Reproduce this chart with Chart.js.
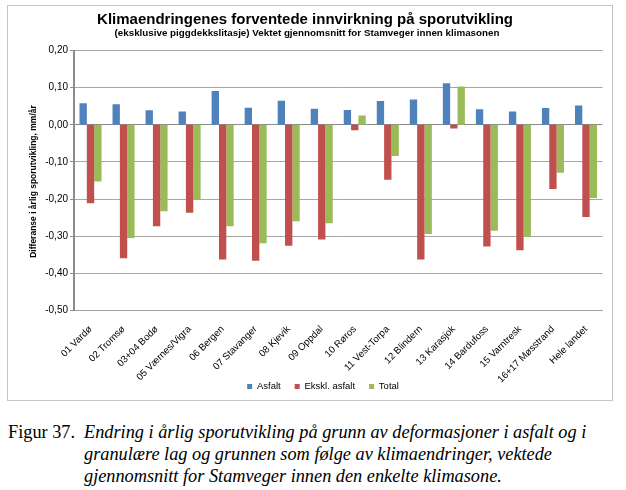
<!DOCTYPE html>
<html>
<head>
<meta charset="utf-8">
<script src="https://cdn.jsdelivr.net/npm/chart.js@4.4.1/dist/chart.umd.min.js"></script>
<style>
  html, body { margin: 0; padding: 0; background: #fff; }
  body { width: 626px; height: 490px; position: relative; overflow: hidden; }
  #box { position: absolute; left: 7px; top: 5px; width: 606px; height: 396px; box-sizing: border-box; border: 1.5px solid #c4c4c4; }
  #wrap { position: absolute; left: 0; top: 0; width: 603px; height: 393px; }
  #cap { position: absolute; left: 8px; top: 422px; font-family: "Liberation Serif", "Times New Roman", serif; font-size: 18.3px; line-height: 21.8px; color: #000; }
  #cap .lab { position: absolute; left: 0; top: 0; white-space: nowrap; }
  #cap .txt { position: absolute; left: 76px; top: 0; width: 540px; font-style: italic; white-space: nowrap; }
</style>
</head>
<body>
<div id="box"><div id="wrap"><canvas id="c"></canvas></div></div>
<div id="cap">
  <div class="lab">Figur 37.</div>
  <div class="txt">Endring i årlig sporutvikling på grunn av deformasjoner i asfalt og i<br>granulære lag og grunnen som følge av klimaendringer, vektede<br>gjennomsnitt for Stamveger innen den enkelte klimasone.</div>
</div>
<script>
const categories = ["01 Vardø","02 Tromsø","03+04 Bodø","05 Værnes/Vigra","06 Bergen","07 Stavanger","08 Kjevik","09 Oppdal","10 Røros","11 Vest-Torpa","12 Blindern","13 Karasjok","14 Bardufoss","15 Varntresk","16+17 Møsstrand","Hele landet"];
const asfalt = [0.058,0.055,0.039,0.036,0.091,0.046,0.065,0.043,0.040,0.064,0.068,0.112,0.042,0.036,0.045,0.052];
const ekskl = [-0.211,-0.359,-0.273,-0.237,-0.363,-0.366,-0.326,-0.309,-0.015,-0.148,-0.363,-0.010,-0.328,-0.338,-0.173,-0.248];
const total = [-0.153,-0.305,-0.233,-0.201,-0.273,-0.319,-0.260,-0.265,0.025,-0.084,-0.294,0.103,-0.285,-0.302,-0.129,-0.197];
const seriesNames = ["Asfalt","Ekskl. asfalt","Total"];
const titleText = "Klimaendringenes forventede innvirkning på sporutvikling";
const subtitleText = "(eksklusive piggdekkslitasje) Vektet gjennomsnitt for Stamveger innen klimasonen";
const yTitle = "Differanse i årlig sporutvikling, mm/år";

const FONT = "'Liberation Sans', Arial, sans-serif";

const textPlugin = {
  id: 'texts',
  beforeDraw(chart) {
    const sx = chart.scales.x;
    if (sx) sx._computeLabelArea = () => undefined;
  },
  afterDraw(chart) {
    const ctx = chart.ctx;
    ctx.save();
    ctx.fillStyle = '#000';
    ctx.textAlign = 'center';
    ctx.textBaseline = 'middle';
    ctx.font = "bold 15px " + FONT;
    ctx.fillText(titleText, 297, 14);
    ctx.font = "bold 9.8px " + FONT;
    ctx.fillText(subtitleText, 299, 27.5);
    ctx.translate(25.5, 175.5);
    ctx.rotate(-Math.PI / 2);
    ctx.font = "bold 8.5px " + FONT;
    ctx.fillText(yTitle, 0, 0);
    ctx.restore();
  }
};

const ds = (label, data, color) => ({
  label, data, backgroundColor: color, borderWidth: 0,
  categoryPercentage: 0.667, barPercentage: 1.0
});

new Chart(document.getElementById('c'), {
  type: 'bar',
  data: {
    labels: categories,
    datasets: [
      ds(seriesNames[0], asfalt, '#4F81BD'),
      ds(seriesNames[1], ekskl, '#C0504D'),
      ds(seriesNames[2], total, '#9BBB59')
    ]
  },
  options: {
    responsive: true,
    maintainAspectRatio: false,
    animation: false,
    devicePixelRatio: 1,
    layout: { padding: { top: 44.5, left: 35.6, right: 8.5, bottom: -2.2 } },
    plugins: {
      title: { display: false },
      tooltip: { enabled: false },
      legend: {
        display: true,
        position: 'bottom',
        labels: {
          boxWidth: 5, boxHeight: 5, padding: 14,
          color: '#000',
          font: { family: FONT, size: 9.5 }
        }
      }
    },
    scales: {
      x: {
        grid: { display: false },
        border: { display: true, color: '#a0a0a0', width: 1 },
        ticks: {
          autoSkip: false, maxRotation: 45, minRotation: 45,
          color: '#000', padding: 5,
          font: { family: FONT, size: 9.7 }
        },
        afterFit(scale) { scale.height = 57.2; }
      },
      y: {
        min: -0.5, max: 0.2,
        grid: {
          color: (c) => (c.tick && Math.abs(c.tick.value) < 1e-9) ? '#8a8a8a' : '#a6a6a6',
          lineWidth: 1,
          tickLength: 4,
          tickColor: '#8c8c8c'
        },
        border: { display: true, color: '#8c8c8c', width: 2 },
        ticks: {
          stepSize: 0.1, padding: 2, color: '#000',
          font: { family: FONT, size: 10 },
          callback: (v) => (Math.abs(v) < 1e-9 ? 0 : v).toFixed(2).replace('.', ',')
        },
        afterFit(scale) { scale.width = 30.4; }
      }
    }
  },
  plugins: [textPlugin]
});
</script>
</body>
</html>
